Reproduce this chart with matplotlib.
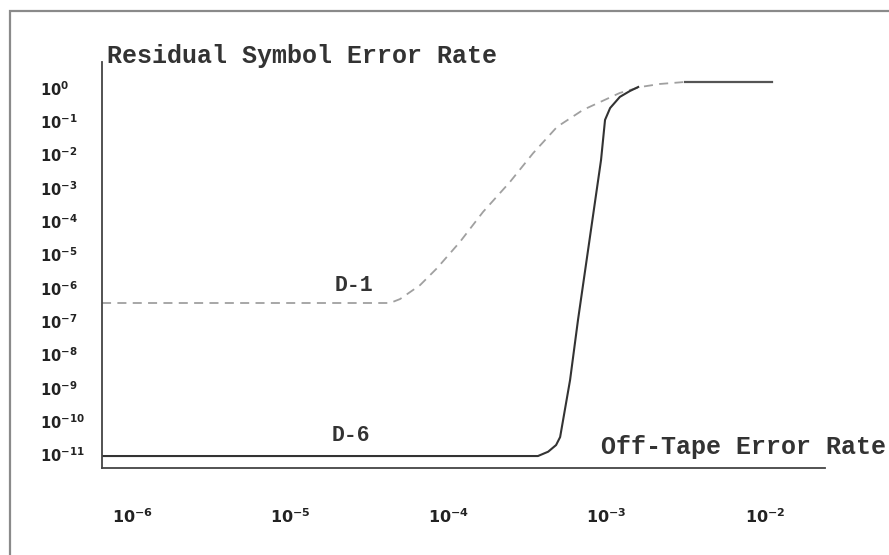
import matplotlib
matplotlib.use("Agg")
import matplotlib.pyplot as plt
from matplotlib.patches import Rectangle
import numpy as np

# ---- data ----
d1_x = [6.43e-7, 4.26e-5, 4.93e-5, 6.59e-5, 8.45e-5, 1.18e-4, 1.65e-4, 2.44e-4,
        3.42e-4, 4.85e-4, 7.08e-4, 1.21e-3, 1.63e-3, 2.17e-3, 3.04e-3]
d1_y = [3.5e-7, 3.5e-7, 4.6e-7, 1.2e-6, 3.9e-6, 2.4e-5, 1.9e-4, 1.5e-3,
        1.1e-2, 6.8e-2, 0.22, 0.71, 1.07, 1.32, 1.5]

d6_x = [6.43e-7, 3.67e-4, 4.26e-4, 4.78e-4, 5.07e-4, 5.86e-4, 6.58e-4, 9.20e-4,
        9.75e-4, 1.05e-3, 1.21e-3, 1.40e-3, 1.58e-3]
d6_y = [8.9e-12, 8.9e-12, 1.2e-11, 1.9e-11, 3.3e-11, 1.7e-9, 1.1e-7, 6.9e-3,
        0.11, 0.25, 0.54, 0.81, 1.07]

sat_x = [3.13e-3, 1.11e-2]
sat_y = [1.5, 1.5]

x_ticks = [1e-6, 1e-5, 1e-4, 1e-3, 1e-2]
x_exps = [-6, -5, -4, -3, -2]
y_ticks = [10.0 ** e for e in range(0, -12, -1)]
y_exps = list(range(0, -12, -1))

series_labels = ["D-1", "D-6"]
title_text = "Residual Symbol Error Rate"
xlabel_text = "Off-Tape Error Rate"

# ---- styling ----
plt.rcParams['mathtext.fontset'] = 'custom'
plt.rcParams['mathtext.rm'] = 'Liberation Sans Narrow:bold'
plt.rcParams['mathtext.bf'] = 'Liberation Sans Narrow:bold'
plt.rcParams['mathtext.it'] = 'Liberation Sans Narrow:bold'

W, H = 889, 555
fig = plt.figure(figsize=(W / 100, H / 100), dpi=100)
fig.patch.set_facecolor('white')

# outer frame
fig.patches.append(Rectangle((10 / W, -0.05), 1.2, 1 - 11 / H + 0.05,
                             transform=fig.transFigure, fill=False,
                             edgecolor='#8a8a8a', linewidth=1.6))

L, R, T, B = 102, 825, 62, 468
ax = fig.add_axes([L / W, 1 - B / H, (R - L) / W, (B - T) / H])
ax.set_xscale('log')
ax.set_yscale('log')
ax.set_xlim(10 ** -6.192, 10 ** -1.62)
ax.set_ylim(10 ** -11.41, 10 ** 0.78)

ax.plot(d1_x, d1_y, color='#a0a0a0', linewidth=1.3, dashes=(5, 3.5))
ax.plot(d6_x, d6_y, color='#333333', linewidth=1.5)
ax.plot(sat_x, sat_y, color='#555555', linewidth=1.6)

for s in ['top', 'right']:
    ax.spines[s].set_visible(False)
for s in ['left', 'bottom']:
    ax.spines[s].set_color('#444444')
    ax.spines[s].set_linewidth(1.3)

ax.minorticks_off()
ax.set_xticks(x_ticks)
ax.set_xticklabels([r'$\mathbf{10^{%d}}$' % e for e in x_exps], fontsize=11.5,
                   color='#222222')
ax.set_yticks(y_ticks)
ax.set_yticklabels([r'$\mathbf{10^{%d}}$' % e for e in y_exps], fontsize=10.5,
                   color='#222222')
ax.tick_params(axis='x', length=0, pad=28)
ax.tick_params(axis='y', length=0, pad=45)
for lab in ax.get_yticklabels():
    lab.set_horizontalalignment('left')

mono = dict(family=['Liberation Mono', 'DejaVu Sans Mono'], fontweight='bold',
            color='#333333')
fig.text(107 / W, 1 - 56 / H, title_text, ha='left', va='center', fontsize=18, **mono)
fig.text(886 / W, 1 - 447 / H, xlabel_text, ha='right', va='center', fontsize=18, **mono)
ax.text(10 ** (-4 + (354 - 448.6) / 158.1), 10 ** (-(285 - 88) / 33.3), series_labels[0],
        ha='center', va='center', fontsize=15.5, **mono)
ax.text(10 ** (-4 + (351 - 448.6) / 158.1), 10 ** (-(435 - 88) / 33.3), series_labels[1],
        ha='center', va='center', fontsize=15.5, **mono)

fig.savefig('out.png', dpi=100, facecolor='white')
